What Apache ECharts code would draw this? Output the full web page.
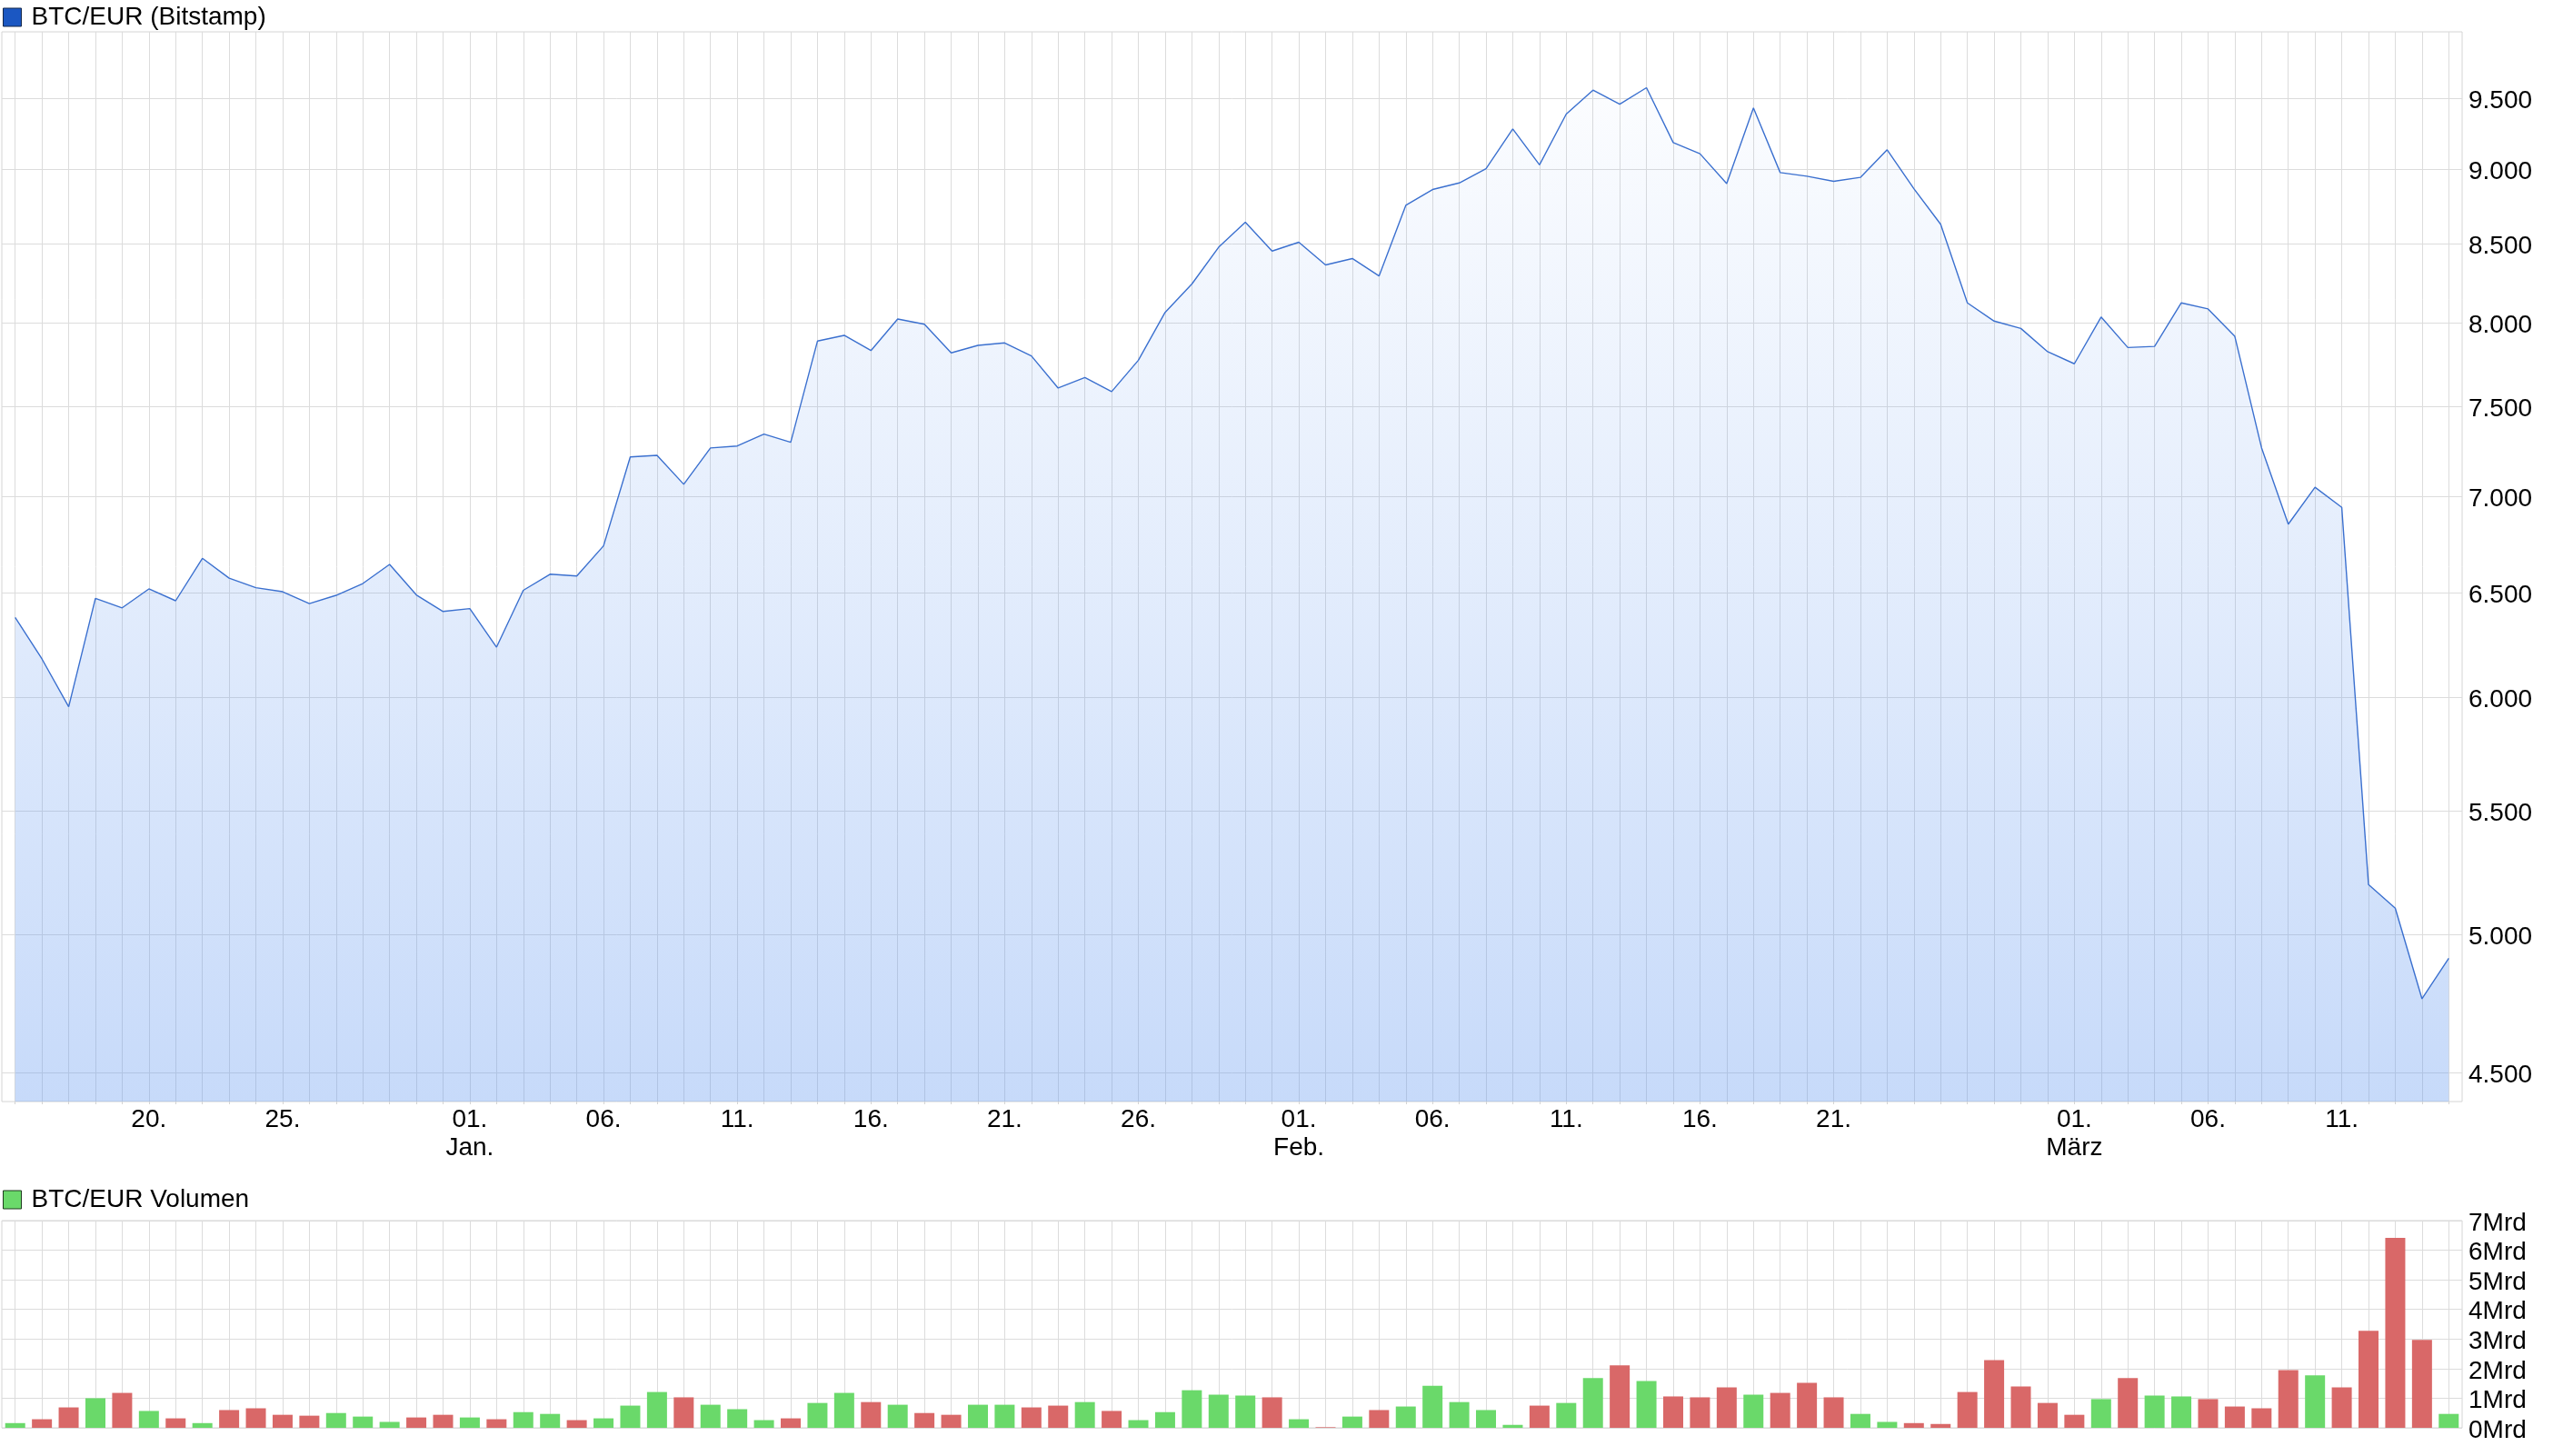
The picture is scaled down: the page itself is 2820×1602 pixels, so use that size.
<!DOCTYPE html>
<html>
<head>
<meta charset="utf-8">
<script src="https://cdn.jsdelivr.net/npm/echarts@6/dist/echarts.min.js"></script>
<style>
html,body{margin:0;padding:0;background:#fff;}
#chart{width:2820px;height:1602px;}
</style>
</head>
<body>
<div id="chart"></div>
<script>
// ---- data ----
const dates = [
 '2019-12-15','2019-12-16','2019-12-17','2019-12-18','2019-12-19','2019-12-20','2019-12-21','2019-12-22','2019-12-23','2019-12-24',
 '2019-12-25','2019-12-26','2019-12-27','2019-12-28','2019-12-29','2019-12-30','2019-12-31',
 '2020-01-01','2020-01-02','2020-01-03','2020-01-04','2020-01-05','2020-01-06','2020-01-07','2020-01-08','2020-01-09','2020-01-10',
 '2020-01-11','2020-01-12','2020-01-13','2020-01-14','2020-01-15','2020-01-16','2020-01-17','2020-01-18','2020-01-19','2020-01-20',
 '2020-01-21','2020-01-22','2020-01-23','2020-01-24','2020-01-25','2020-01-26','2020-01-27','2020-01-28','2020-01-29','2020-01-30','2020-01-31',
 '2020-02-01','2020-02-02','2020-02-03','2020-02-04','2020-02-05','2020-02-06','2020-02-07','2020-02-08','2020-02-09','2020-02-10',
 '2020-02-11','2020-02-12','2020-02-13','2020-02-14','2020-02-15','2020-02-16','2020-02-17','2020-02-18','2020-02-19','2020-02-20',
 '2020-02-21','2020-02-22','2020-02-23','2020-02-24','2020-02-25','2020-02-26','2020-02-27','2020-02-28','2020-02-29',
 '2020-03-01','2020-03-02','2020-03-03','2020-03-04','2020-03-05','2020-03-06','2020-03-07','2020-03-08','2020-03-09','2020-03-10',
 '2020-03-11','2020-03-12','2020-03-13','2020-03-14','2020-03-15'
];
const prices = [
 6380,6180,5957,6474,6427,6521,6462,6676,6575,6527,
 6507,6448,6489,6548,6645,6491,6409,6423,6236,6514,
 6595,6586,6740,7216,7225,7066,7266,7277,7344,7298,
 7887,7922,7830,8022,7990,7816,7861,7876,7798,7608,
 7670,7587,7772,8063,8240,8476,8641,8451,8509,8362,
 8403,8291,8753,8860,8905,9003,9282,9029,9388,9562,
 9460,9580,9185,9107,8900,9432,8976,8951,8916,8943,
 9134,8866,8627,8122,8009,7964,7823,7751,8034,7848,
 7855,8122,8084,7916,7267,6853,7050,6942,5197,5104,
 4761,4911
];
// volume in Mrd EUR
const volumes = [
 0.16,0.29,0.69,1.00,1.18,0.57,0.32,0.16,0.60,0.66,
 0.44,0.41,0.50,0.38,0.20,0.35,0.44,0.35,0.29,0.53,
 0.47,0.26,0.32,0.75,1.21,1.03,0.78,0.63,0.26,0.32,
 0.84,1.18,0.87,0.78,0.50,0.44,0.78,0.78,0.69,0.75,
 0.87,0.57,0.26,0.53,1.27,1.12,1.09,1.03,0.29,0.02,
 0.38,0.60,0.72,1.42,0.87,0.60,0.10,0.75,0.84,1.68,
 2.11,1.58,1.06,1.03,1.37,1.12,1.18,1.52,1.03,0.47,
 0.20,0.16,0.13,1.21,2.29,1.40,0.84,0.44,0.97,1.68,
 1.09,1.06,0.97,0.72,0.66,1.95,1.77,1.37,3.28,6.42,
 2.97,0.47
];
const priceTicks = [4500,5000,5500,6000,6500,7000,7500,8000,8500,9000,9500];
const volumeTicks = [0,1,2,3,4,5,6,7];
const xLabelDates = ['2019-12-20','2019-12-25','2020-01-01','2020-01-06','2020-01-11','2020-01-16','2020-01-21','2020-01-26',
 '2020-02-01','2020-02-06','2020-02-11','2020-02-16','2020-02-21','2020-03-01','2020-03-06','2020-03-11'];
const xLabelTexts = ['20.','25.','01.\nJan.','06.','11.','16.','21.','26.','01.\nFeb.','06.','11.','16.','21.','01.\nMärz','06.','11.'];
const priceName = 'BTC/EUR (Bitstamp)';
const volumeName = 'BTC/EUR Volumen';

// ---- build ----
const FONT = "'Liberation Sans', Arial, sans-serif";
const FS = 28;
const GRIDC = '#dcdcdc';
const dayIdx = dates.map((d, i) => i);
const labelIdx = xLabelDates.map(d => dates.indexOf(d));
const labelMap = {};
labelIdx.forEach((k, j) => { labelMap[k] = xLabelTexts[j]; });
const fmtDE = v => String(Math.round(v)).replace(/\B(?=(\d{3})+(?!\d))/g, '.');
const GREEN = '#6ad96a', RED = '#d96868';

const chart = echarts.init(document.getElementById('chart'), null, {renderer: 'canvas'});
const option = {
  animation: false,
  backgroundColor: '#fff',
  textStyle: {fontFamily: FONT},
  legend: [
    {
      data: [{name: priceName, icon: 'rect', itemStyle: {color: '#1b57c2', borderColor: '#15284a', borderWidth: 1}}],
      left: 3, top: 5, padding: 0, itemWidth: 20, itemHeight: 20, selectedMode: false,
      textStyle: {fontSize: FS, color: '#000', fontFamily: FONT, padding: [0, 0, 0, 6]}
    },
    {
      data: [{name: volumeName, icon: 'rect', itemStyle: {color: GREEN, borderColor: '#1f3a1f', borderWidth: 1}}],
      left: 3, top: 1306, padding: 0, itemWidth: 20, itemHeight: 20, selectedMode: false,
      textStyle: {fontSize: FS, color: '#000', fontFamily: FONT, padding: [0, 0, 0, 6]}
    }
  ],
  grid: [
    {left: 2, right: 111, top: 35, bottom: 390, show: true, borderColor: '#d4d4d4', borderWidth: 1, backgroundColor: 'transparent'},
    {left: 2, right: 111, top: 1343, bottom: 31, show: true, borderColor: '#d4d4d4', borderWidth: 1, backgroundColor: 'transparent'}
  ],
  xAxis: [
    {
      type: 'value', gridIndex: 0, min: -0.5, max: dates.length - 0.5,
      axisLine: {show: false},
      axisTick: {show: true, length: 3, lineStyle: {color: '#d4d4d4'}, customValues: dayIdx},
      axisLabel: {customValues: labelIdx, formatter: v => labelMap[v] || '', fontSize: FS, color: '#000',
        fontFamily: FONT, lineHeight: 31, margin: 5},
      splitLine: {show: true, lineStyle: {color: GRIDC, width: 1}}
    },
    {
      type: 'value', gridIndex: 1, min: -0.5, max: dates.length - 0.5,
      axisLine: {show: false},
      axisTick: {show: false, customValues: dayIdx},
      axisLabel: {show: false},
      splitLine: {show: true, lineStyle: {color: GRIDC, width: 1}}
    }
  ],
  yAxis: [
    {
      type: 'log', gridIndex: 0, position: 'right', min: 4400, max: 10000,
      axisLine: {show: false},
      axisTick: {show: false, customValues: priceTicks},
      axisLabel: {customValues: priceTicks, formatter: v => fmtDE(v), fontSize: FS, color: '#000', fontFamily: FONT,
        margin: 7, verticalAlign: 'top', lineHeight: 30, padding: [-12, 0, 0, 0]},
      splitLine: {show: true, lineStyle: {color: GRIDC, width: 1}}
    },
    {
      type: 'value', gridIndex: 1, position: 'right', min: volumeTicks[0], max: volumeTicks[volumeTicks.length - 1], interval: 1,
      axisLine: {show: false},
      axisTick: {show: false},
      axisLabel: {formatter: v => v + 'Mrd', fontSize: FS, color: '#000', fontFamily: FONT,
        margin: 7, verticalAlign: 'top', lineHeight: 30, padding: [-12, 0, 0, 0]},
      splitLine: {show: true, lineStyle: {color: GRIDC, width: 1}}
    }
  ],
  series: [
    {
      name: priceName, type: 'line', xAxisIndex: 0, yAxisIndex: 0,
      data: prices.map((p, i) => [i, p]),
      showSymbol: false, symbol: 'none',
      lineStyle: {color: '#3b70cf', width: 1.4},
      itemStyle: {color: '#1b57c2'},
      areaStyle: {
        origin: 'start',
        color: new echarts.graphic.LinearGradient(0, 0, 0, 1, [
          {offset: 0, color: 'rgba(95,150,240,0.03)'},
          {offset: 0.5, color: 'rgba(95,150,240,0.26)'},
          {offset: 1, color: 'rgba(95,150,240,0.5)'}
        ])
      }
    },
    {
      name: volumeName, type: 'bar', xAxisIndex: 1, yAxisIndex: 1,
      barWidth: 22,
      data: volumes.map((v, i) => ({
        value: [i, v],
        itemStyle: {color: (i === 0 || prices[i] >= prices[i - 1]) ? GREEN : RED}
      })),
      itemStyle: {color: GREEN}
    }
  ]
};
chart.setOption(option);
</script>
</body>
</html>
